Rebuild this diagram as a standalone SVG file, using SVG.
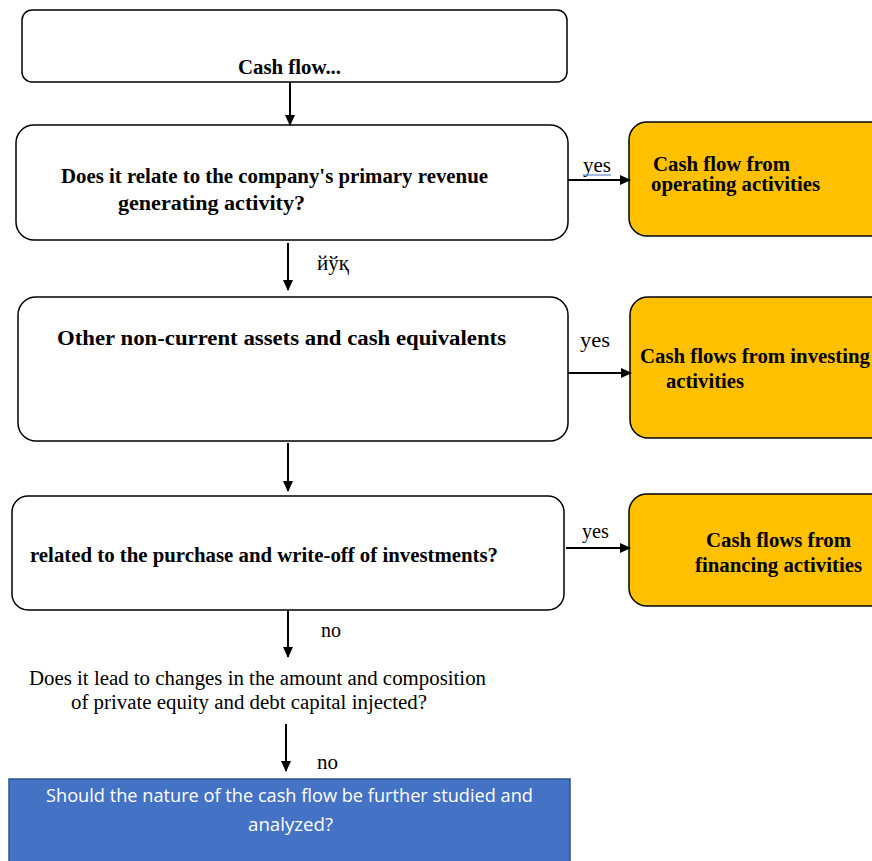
<svg xmlns="http://www.w3.org/2000/svg" width="872" height="861" viewBox="0 0 872 861">
<defs>
<marker id="ah" markerWidth="11" markerHeight="10" refX="10" refY="5" orient="auto" markerUnits="userSpaceOnUse">
<path d="M0,0 L11,5 L0,10 Z" fill="#000"/>
</marker>
<style>
.box{fill:#fff;stroke:#000;stroke-width:1.5}
.org{fill:#FFC000;stroke:#000;stroke-width:1.5}
.b{font-family:"Liberation Serif","Times New Roman",serif;font-weight:bold;fill:#000;font-size:20px}
.n{font-family:"Liberation Serif","Times New Roman",serif;fill:#000;font-size:20px}
.w{font-family:"Open Sans","Noto Sans",sans-serif;fill:#fff;font-size:18px}
.c line{stroke:#000;stroke-width:2;marker-end:url(#ah)}
</style>
</defs>
<rect width="872" height="861" fill="#fff"/>
<g id="start">
<rect class="box" x="22" y="10" width="545" height="72" rx="10"/>
<text class="b" x="238" y="74" textLength="103" lengthAdjust="spacingAndGlyphs">Cash flow...</text>
</g>
<g id="q1">
<rect class="box" x="16" y="125" width="552" height="115" rx="18"/>
<text class="b" x="61" y="183" textLength="427" lengthAdjust="spacingAndGlyphs">Does it relate to the company's primary revenue</text>
<text class="b" x="118" y="210" textLength="187" lengthAdjust="spacingAndGlyphs">generating activity?</text>
</g>
<g id="op">
<rect class="org" x="629" y="122" width="260" height="114" rx="18"/>
<text class="b" x="653" y="171" font-size="16.5" textLength="137" lengthAdjust="spacingAndGlyphs">Cash flow from</text>
<text class="b" x="651" y="191" font-size="16.5" textLength="169" lengthAdjust="spacingAndGlyphs">operating activities</text>
</g>
<g id="q2">
<rect class="box" x="18" y="297" width="550" height="144" rx="18"/>
<text class="b" x="57" y="345" font-size="21" textLength="449" lengthAdjust="spacingAndGlyphs">Other non-current assets and cash equivalents</text>
</g>
<g id="inv">
<rect class="org" x="630" y="297" width="260" height="141" rx="18"/>
<text class="b" x="640" y="363" textLength="230" lengthAdjust="spacingAndGlyphs">Cash flows from investing</text>
<text class="b" x="666" y="388" textLength="78" lengthAdjust="spacingAndGlyphs">activities</text>
</g>
<g id="q3">
<rect class="box" x="12" y="496" width="552" height="114" rx="16"/>
<text class="b" x="30" y="562" textLength="468" lengthAdjust="spacingAndGlyphs">related to the purchase and write-off of investments?</text>
</g>
<g id="fin">
<rect class="org" x="629" y="494" width="260" height="112" rx="18"/>
<text class="b" x="706" y="547" textLength="145" lengthAdjust="spacingAndGlyphs">Cash flows from</text>
<text class="b" x="695" y="572" textLength="167" lengthAdjust="spacingAndGlyphs">financing activities</text>
</g>
<g id="q4">
<text class="n" x="29" y="685" textLength="457" lengthAdjust="spacingAndGlyphs">Does it lead to changes in the amount and composition</text>
<text class="n" x="71" y="709" textLength="356" lengthAdjust="spacingAndGlyphs">of private equity and debt capital injected?</text>
</g>
<g id="end">
<rect x="9" y="779" width="561" height="90" fill="#4472C4" stroke="#2F528F" stroke-width="1.5"/>
<text class="w" x="46" y="802" textLength="487" lengthAdjust="spacingAndGlyphs">Should the nature of the cash flow be further studied and</text>
<text class="w" x="248" y="831" textLength="85" lengthAdjust="spacingAndGlyphs">analyzed?</text>
</g>
<g id="connectors" class="c">
<line x1="290" y1="82" x2="290" y2="125"/>
<line x1="568" y1="180" x2="630" y2="180"/>
<line x1="288" y1="243" x2="288" y2="290"/>
<line x1="568" y1="373" x2="631" y2="373"/>
<line x1="288" y1="443" x2="288" y2="491"/>
<line x1="566" y1="548" x2="630" y2="548"/>
<line x1="288" y1="610" x2="288" y2="657"/>
<line x1="286" y1="724" x2="286" y2="771"/>
</g>
<g id="labels">
<text class="n" x="583" y="172" textLength="28" lengthAdjust="spacingAndGlyphs">yes</text>
<line x1="583" y1="175" x2="611" y2="175" stroke="#4472C4" stroke-width="1"/>
<text class="n" x="317" y="270" textLength="32" lengthAdjust="spacingAndGlyphs">йўқ</text>
<text class="n" x="580" y="347" textLength="30" lengthAdjust="spacingAndGlyphs">yes</text>
<text class="n" x="582" y="538" textLength="27" lengthAdjust="spacingAndGlyphs">yes</text>
<text class="n" x="321" y="637" textLength="20" lengthAdjust="spacingAndGlyphs">no</text>
<text class="n" x="317" y="769" textLength="21" lengthAdjust="spacingAndGlyphs">no</text>
</g>
</svg>
